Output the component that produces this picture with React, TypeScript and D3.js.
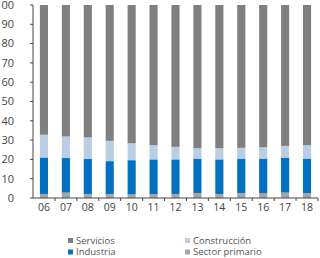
import * as d3 from 'd3'

const years = ['06', '07', '08', '09', '10', '11', '12', '13', '14', '15', '16', '17', '18']
const primario = [2.1, 2.8, 2.1, 2.1, 1.9, 2.1, 2.1, 2.6, 2.1, 2.6, 2.6, 2.8, 2.6]
const industria = [18.9, 17.9, 18.1, 17.0, 17.7, 17.9, 17.9, 17.8, 17.9, 17.8, 17.8, 18.1, 17.8]
const construccion = [11.8, 11.2, 11.2, 10.5, 8.8, 7.4, 6.5, 5.4, 5.8, 5.6, 5.9, 6.1, 7.0]
const servicios = years.map((_, i) => 100 - primario[i] - industria[i] - construccion[i])
const yTicks = [0, 10, 20, 30, 40, 50, 60, 70, 80, 90, 100]

const series = [
  { key: 'Sector primario', values: primario, color: '#a5a5a5' },
  { key: 'Industria', values: industria, color: '#0070c0' },
  { key: 'Construcción', values: construccion, color: '#b9cde5' },
  { key: 'Servicios', values: servicios, color: '#7f7f7f' },
]

const legend = [
  { key: 'Servicios', col: 0, row: 0 },
  { key: 'Construcción', col: 1, row: 0 },
  { key: 'Industria', col: 0, row: 1 },
  { key: 'Sector primario', col: 1, row: 1 },
]

export default function App() {
  const width = 320
  const height = 258
  const left = 33
  const right = 318
  const top = 5
  const bottom = 198

  const x = d3.scaleBand<string>().domain(years).range([left, right]).paddingInner(0.63).paddingOuter(0.315)
  const y = d3.scaleLinear().domain([0, 100]).range([bottom, top])

  const stacks = series.map((s, si) =>
    s.values.map((v, i) => {
      const base = series.slice(0, si).reduce((acc, p) => acc + p.values[i], 0)
      return { y0: base, y1: base + v }
    })
  )
  const color = (k: string) => series.find(s => s.key === k)!.color
  const step = x.step()
  const font = "'Open Sans', sans-serif"

  return (
    <svg width={width} height={height} style={{ position: 'absolute', left: 0, top: 0 }} fontFamily={font}>
      {series.map((s, si) =>
        years.map((yr, i) => (
          <rect key={s.key + yr} x={x(yr)} width={x.bandwidth()}
            y={y(stacks[si][i].y1)} height={y(stacks[si][i].y0) - y(stacks[si][i].y1)} fill={s.color} />
        ))
      )}
      <line x1={left} x2={left} y1={y(100)} y2={bottom} stroke="#444" strokeWidth={1} />
      {yTicks.map(t => (
        <g key={t}>
          <line x1={left - 3} x2={left} y1={y(t)} y2={y(t)} stroke="#444" />
          <text x={14} y={y(t)} dy="0.35em" textAnchor="end" fontSize={11} fill="#444">{t}</text>
        </g>
      ))}
      <line x1={left} x2={right} y1={bottom} y2={bottom} stroke="#444" />
      {years.map((yr, i) => (
        <g key={yr}>
          <line x1={left + step * (i + 1)} x2={left + step * (i + 1)} y1={bottom} y2={bottom + 3} stroke="#444" />
          <text x={x(yr)! + x.bandwidth() / 2} y={bottom + 13} textAnchor="middle" fontSize={10.5} fill="#444">{yr}</text>
        </g>
      ))}
      {legend.map(l => {
        const lx = 68 + l.col * 117
        const ly = 240.5 + l.row * 11.5
        return (
          <g key={l.key}>
            <rect x={lx} y={ly - 2.5} width={5} height={5} fill={color(l.key)} />
            <text x={lx + 8} y={ly} dy="0.35em" fontSize={9.5} fill="#555">{l.key}</text>
          </g>
        )
      })}
    </svg>
  )
}
